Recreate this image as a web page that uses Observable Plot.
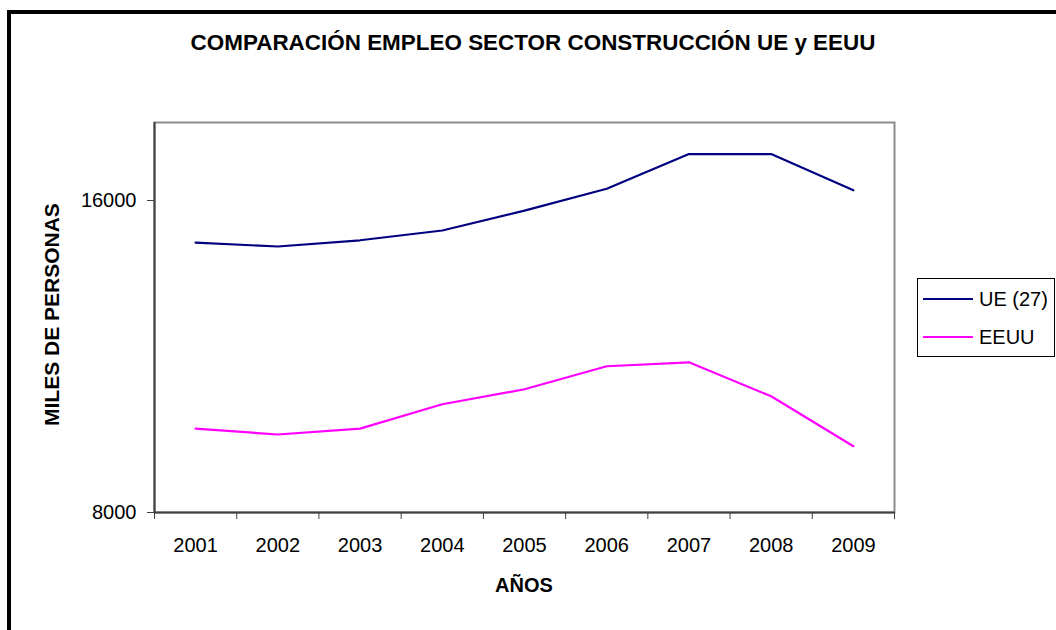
<!DOCTYPE html>
<html>
<head>
<meta charset="utf-8">
<script src="https://cdn.jsdelivr.net/npm/d3@7"></script>
<script src="https://cdn.jsdelivr.net/npm/@observablehq/plot@0.6"></script>
<style>
  html, body { margin: 0; padding: 0; background: #fff; }
  #wrap { position: relative; width: 1056px; height: 630px; overflow: hidden; background: #fff;
          font-family: "Liberation Sans", Arial, sans-serif; color: #000; }
  #wrap svg { position: absolute; left: 0; top: 0; }
  .abs { position: absolute; white-space: nowrap; }
</style>
</head>
<body>
<div id="wrap"></div>
<script>
// ---- data ----
const years = [2001, 2002, 2003, 2004, 2005, 2006, 2007, 2008, 2009];
const seriesNames = ["UE (27)", "EEUU"];
const ueValues = [14920, 14820, 14980, 15230, 15740, 16300, 17190, 17190, 16260];
const eeuuValues = [10150, 10000, 10150, 10775, 11160, 11750, 11850, 10980, 9700];
const yTicks = [8000, 16000];
const seriesColors = ["#000080", "#FF00FF"];
const titleText = "COMPARACIÓN EMPLEO SECTOR CONSTRUCCIÓN UE y EEUU";
const xTitle = "AÑOS";
const yTitle = "MILES DE PERSONAS";

const data = [
  ...years.map((y, i) => ({year: y, value: ueValues[i], series: seriesNames[0]})),
  ...years.map((y, i) => ({year: y, value: eeuuValues[i], series: seriesNames[1]}))
];
const boundaries = [years[0] - 0.5, ...years.map(y => y + 0.5)];

const chart = Plot.plot({
  width: 1056,
  height: 630,
  marginLeft: 154,
  marginRight: 162,
  marginTop: 122,
  marginBottom: 118,
  x: {type: "linear", domain: [years[0] - 0.5, years[years.length - 1] + 0.5]},
  y: {domain: [8000, 18000]},
  color: {domain: seriesNames, range: seriesColors},
  style: {fontFamily: "'Liberation Sans', Arial, sans-serif", fontSize: "20px", color: "#000", background: "transparent", overflow: "visible"},
  marks: [
    Plot.frame({stroke: "#8c8c8c", strokeWidth: 2}),
    Plot.ruleX([boundaries[0]], {stroke: "#404040", strokeWidth: 2}),
    Plot.ruleY([8000], {stroke: "#404040", strokeWidth: 2}),
    Plot.axisY({ticks: yTicks, tickSize: 7, tickPadding: 11, tickFormat: d => String(d), label: null, stroke: "#404040", fontSize: 20}),
    Plot.axisX({ticks: years, tickSize: 0, tickPadding: 25, tickFormat: d => String(d), label: null, fontSize: 20}),
    Plot.axisX({ticks: boundaries, tickSize: 7, tickFormat: () => "", label: null, stroke: "#404040"}),
    Plot.line(data, {x: "year", y: "value", z: "series", stroke: "series", strokeWidth: 2.2})
  ]
});

const wrap = document.getElementById("wrap");
wrap.appendChild(chart);

// outer chart-area border (cropped at right and bottom)
const border = document.createElement("div");
border.className = "abs";
Object.assign(border.style, {left: "7px", top: "10px", width: "1200px", height: "800px",
  borderLeft: "4px solid #000", borderTop: "4px solid #000"});
wrap.appendChild(border);

// title
const title = document.createElement("div");
title.className = "abs";
title.textContent = titleText;
Object.assign(title.style, {left: "533px", top: "30px", fontSize: "22px", fontWeight: "bold",
  transform: "translateX(-50%) scaleX(1.02)", lineHeight: "26px"});
wrap.appendChild(title);

// x axis title
const xt = document.createElement("div");
xt.className = "abs";
xt.textContent = xTitle;
Object.assign(xt.style, {left: "524px", top: "573px", fontSize: "20px", fontWeight: "bold",
  transform: "translateX(-50%)", lineHeight: "24px"});
wrap.appendChild(xt);

// y axis title
const yt = document.createElement("div");
yt.className = "abs";
yt.textContent = yTitle;
Object.assign(yt.style, {left: "0px", top: "0px", fontSize: "21px", fontWeight: "bold", lineHeight: "22px",
  transformOrigin: "0 0", transform: "translate(41px, 426px) rotate(-90deg)"});
wrap.appendChild(yt);

// legend
const legend = document.createElement("div");
legend.className = "abs";
Object.assign(legend.style, {left: "917px", top: "278px", width: "136px", height: "77px",
  border: "1px solid #000", background: "#fff"});
seriesNames.forEach((name, i) => {
  const row = document.createElement("div");
  row.className = "abs";
  Object.assign(row.style, {left: "5px", top: (9 + i * 38) + "px", height: "22px", display: "flex", alignItems: "center"});
  const sw = document.createElement("div");
  Object.assign(sw.style, {width: "50px", height: "2px", background: seriesColors[i], marginRight: "6px"});
  const lab = document.createElement("span");
  lab.textContent = name;
  Object.assign(lab.style, {fontSize: "20px", lineHeight: "22px"});
  row.appendChild(sw);
  row.appendChild(lab);
  legend.appendChild(row);
});
wrap.appendChild(legend);
</script>
</body>
</html>
